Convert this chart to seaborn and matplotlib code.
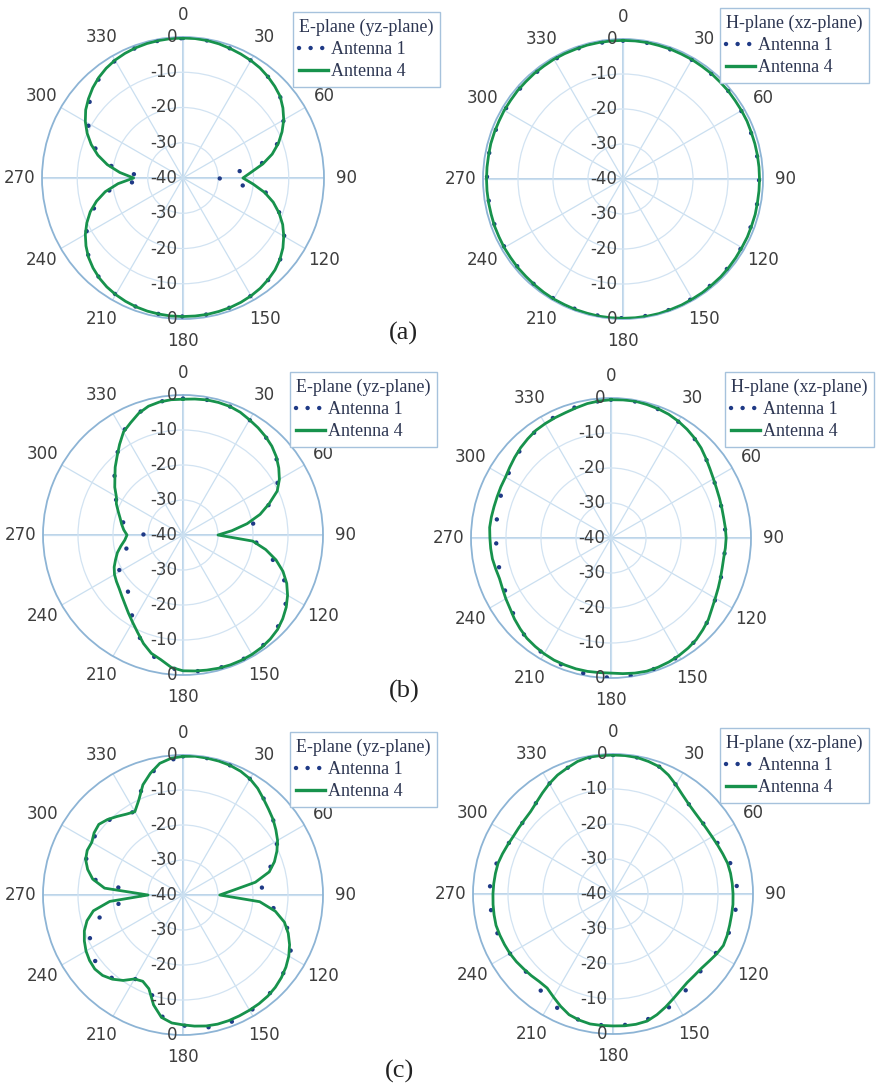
import numpy as np
import matplotlib
matplotlib.use("Agg")
import matplotlib.pyplot as plt
import seaborn as sns
from matplotlib.lines import Line2D
from matplotlib.transforms import offset_copy

# ---------------------------------------------------------------- data (dB)
angles_fine = np.arange(0, 360, 5)      # Antenna 4 sampling, degrees
angles_coarse = np.arange(0, 360, 10)   # Antenna 1 sampling, degrees

# (a) E-plane
a_e_ant4 = [-0.3, -0.3, -0.4, -0.6, -0.9, -1.2, -1.5, -1.9, -2.5, -3.2, -4.0, -5.4,
            -7.0, -9.0, -11.2, -13.8, -17.0, -20.5, -23.0, -20.0, -16.5, -13.5, -11.0, -8.8,
            -7.0, -5.4, -4.1, -3.1, -2.4, -1.8, -1.4, -1.1, -0.9, -0.8, -0.7, -0.7,
            -0.7, -0.7, -0.8, -0.9, -1.1, -1.4, -1.8, -2.3, -3.0, -3.9, -5.0, -6.4,
            -8.0, -9.9, -12.0, -14.6, -17.6, -21.5, -26.0, -22.0, -18.2, -15.0, -12.3, -10.0,
            -8.0, -6.3, -5.0, -3.8, -2.8, -2.0, -1.4, -1.0, -0.7, -0.5, -0.4, -0.3]
a_e_ant1 = [-0.3, -0.4, -0.9, -1.5, -2.5, -4.0, -7.0, -11.5, -17.5, -30.0, -16.0, -10.8,
            -6.8, -4.0, -2.3, -1.4, -0.9, -0.7, -0.7, -0.8, -1.1, -1.8, -3.0, -5.0,
            -8.2, -12.5, -18.0, -29.0, -18.5, -12.8, -8.8, -5.5, -3.0, -1.5, -0.7, -0.4]

# (a) H-plane
a_h_ant4 = [-0.4, -0.4, -0.4, -0.5, -0.5, -0.6, -0.6, -0.7, -0.7, -0.8, -0.8, -0.9,
            -0.9, -0.9, -1.0, -1.0, -1.0, -1.0, -1.0, -1.0, -1.0, -0.9, -0.9, -0.8,
            -0.8, -0.7, -0.6, -0.5, -0.5, -0.4, -0.4, -0.3, -0.3, -0.2, -0.2, -0.2,
            -0.2, -0.2, -0.2, -0.3, -0.3, -0.4, -0.4, -0.5, -0.6, -0.7, -0.7, -0.8,
            -0.8, -0.9, -0.9, -1.0, -1.0, -1.0, -1.0, -1.0, -1.0, -0.9, -0.9, -0.9,
            -0.8, -0.8, -0.7, -0.7, -0.6, -0.6, -0.5, -0.5, -0.5, -0.4, -0.4, -0.4]
a_h_ant1 = [-0.5, -0.5, -0.6, -0.7, -0.8, -0.8, -1.0, -1.1, -1.1, -1.1, -1.0, -1.0,
            -0.9, -0.7, -0.6, -0.5, -0.3, -0.3, -0.2, -0.3, -0.4, -0.5, -0.6, -0.8,
            -0.9, -1.0, -1.1, -1.1, -1.0, -1.0, -0.9, -0.8, -0.7, -0.6, -0.5, -0.5]

# (b) E-plane
b_e_ant4 = [-1.2, -1.0, -0.8, -0.8, -0.9, -1.3, -2.0, -2.6, -3.3, -4.1, -5.2, -6.6,
            -8.2, -10.3, -13.8, -17.2, -21.4, -26.0, -30.0, -20.0, -16.0, -12.5, -9.6, -7.3,
            -5.5, -4.0, -2.8, -1.8, -1.2, -0.8, -0.6, -0.5, -0.5, -0.6, -0.8, -1.0,
            -1.2, -2.0, -3.8, -5.0, -7.0, -9.3, -11.2, -12.8, -14.2, -15.3, -16.2, -16.8,
            -17.4, -18.3, -19.5, -20.6, -22.0, -23.3, -24.0, -23.0, -22.2, -21.4, -20.3, -19.0,
            -18.0, -16.2, -14.6, -12.6, -10.7, -8.4, -6.0, -4.6, -3.0, -1.9, -1.4, -1.2]
b_e_ant1 = [-1.0, -0.8, -0.9, -2.0, -3.3, -5.2, -8.4, -13.5, -19.5, -21.5, -16.5, -9.8,
            -5.6, -2.8, -1.2, -0.5, -0.4, -0.7, -0.8, -2.8, -6.5, -11.5, -16.0, -19.0,
            -19.0, -20.5, -24.5, -29.0, -23.0, -20.0, -17.8, -14.4, -10.5, -5.8, -2.8, -1.3]

# (b) H-plane
b_h_ant4 = [-0.5, -0.4, -0.3, -0.5, -0.7, -1.0, -1.5, -2.1, -2.8, -3.6, -4.6, -5.5,
            -6.2, -6.7, -7.0, -7.2, -7.3, -7.2, -7.1, -7.2, -7.3, -7.1, -6.7, -6.2,
            -5.6, -4.8, -3.7, -2.9, -2.1, -1.6, -1.2, -0.9, -0.7, -0.6, -0.8, -1.1,
            -1.4, -1.4, -1.3, -1.3, -1.4, -1.5, -1.8, -2.2, -2.6, -3.3, -4.0, -4.8,
            -5.3, -5.8, -6.1, -5.9, -5.6, -5.5, -5.4, -5.2, -5.3, -5.4, -5.4, -5.3,
            -5.2, -4.7, -4.1, -3.5, -3.0, -2.5, -2.3, -2.1, -1.9, -1.5, -1.0, -0.7]
b_h_ant1 = [-0.5, -0.4, -0.8, -1.6, -2.9, -4.6, -6.2, -7.0, -7.3, -7.1, -7.2, -6.6,
            -5.5, -3.6, -2.0, -1.0, -0.6, -0.2, 0.0, -0.4, -1.0, -1.6, -2.4, -4.2,
            -5.8, -6.6, -7.0, -7.1, -6.9, -6.3, -5.6, -4.3, -3.0, -2.0, -1.4, -0.8]

# (c) E-plane
c_e_ant4 = [-0.4, -0.2, -0.3, -0.4, -0.6, -1.0, -1.7, -2.8, -4.2, -5.4, -6.4, -7.6,
            -8.8, -10.4, -12.2, -14.5, -19.0, -26.0, -29.5, -18.0, -13.2, -10.0, -8.0, -6.4,
            -5.1, -4.1, -3.3, -2.7, -2.3, -2.1, -2.0, -1.9, -1.8, -1.8, -2.0, -2.4,
            -2.9, -3.3, -4.5, -7.5, -11.5, -12.8, -12.3, -10.2, -8.6, -7.5, -7.1, -7.4,
            -8.0, -8.9, -10.0, -11.6, -14.0, -19.0, -30.0, -17.5, -13.8, -11.8, -10.4, -9.8,
            -9.9, -9.0, -8.6, -9.5, -10.7, -11.8, -12.5, -10.1, -6.5, -4.0, -1.8, -0.8]
c_e_ant1 = [-0.4, -0.3, -0.6, -1.7, -4.1, -6.4, -8.8, -12.4, -17.5, -17.0, -13.0, -7.0,
            -4.6, -3.3, -2.3, -1.6, -1.1, -1.5, -2.7, -4.8, -11.6, -12.4, -8.8, -8.2,
            -9.2, -11.8, -18.0, -28.0, -14.0, -10.5, -10.1, -8.7, -10.7, -12.5, -6.5, -1.8]

# (c) H-plane
c_h_ant4 = [-0.3, -0.3, -0.4, -0.8, -1.3, -2.5, -4.0, -5.4, -6.4, -7.0, -7.3, -7.4,
            -7.3, -7.0, -6.6, -6.1, -5.9, -5.8, -5.7, -5.6, -5.6, -5.5, -5.3, -5.2,
            -5.8, -6.5, -7.0, -7.1, -7.0, -6.4, -5.5, -4.4, -3.3, -2.4, -2.2, -2.2,
            -2.3, -2.3, -2.3, -2.7, -3.3, -4.6, -6.0, -7.2, -7.3, -7.0, -6.7, -6.3,
            -6.0, -5.8, -5.6, -5.4, -5.5, -5.6, -5.7, -5.8, -5.9, -6.0, -6.4, -6.8,
            -7.1, -7.1, -7.0, -6.7, -5.9, -4.8, -3.6, -2.5, -1.7, -0.8, -0.3, -0.3]
c_h_ant1 = [-0.3, -0.4, -1.3, -4.0, -6.4, -7.2, -7.2, -5.8, -4.7, -4.3, -4.7, -5.1,
            -6.1, -6.7, -5.9, -4.2, -3.0, -2.4, -2.2, -2.3, -2.9, -4.1, -6.0, -6.7,
            -6.0, -5.1, -4.8, -4.6, -4.8, -6.2, -7.1, -7.0, -5.9, -3.6, -1.7, -0.4]

angle_labels = [str(a) for a in range(0, 360, 30)]
radial_ticks = [-30, -20, -10]
radial_up = [0, -10, -20, -30, -40]
radial_down = [-30, -20, -10, 0]
series_names = ["Antenna 1", "Antenna 4"]
panel_tags = ["(a)", "(b)", "(c)"]

# ---------------------------------------------------------------- styling
GREEN = "#17924c"
NAVY = "#1f3a86"
SPOKE = "#cadff0"
RING = "#d2e3f2"
AXLINE = "#a9c8e3"
OUTER = "#8db4d5"
TXT = "#3d3d3d"
LEG_TXT = "#2d3652"
SERIF = "Liberation Serif"
DOT_LW = 3.2
DOT_STYLE = (0, (0.01, 5.4))

W, H = 889, 1088
fig = plt.figure(figsize=(W / 100, H / 100), dpi=100)
fig.patch.set_facecolor("white")


def polar_axes(cx, cy, R):
    rect = [(cx - R) / W, (H - cy - R) / H, 2 * R / W, 2 * R / H]
    return fig.add_axes(rect, projection="polar")


def closed(deg, vals):
    th = np.deg2rad(np.append(deg, 360))
    r = np.append(np.asarray(vals, float), vals[0])
    return th, r


def draw_panel(ax, ant1, ant4, title, legend_xy):
    ax.set_theta_zero_location("N")
    ax.set_theta_direction(-1)
    ax.set_facecolor("white")

    ax.set_xticks(np.deg2rad(np.arange(0, 360, 30)))
    ax.set_xticklabels(angle_labels, fontsize=12, color=TXT)
    ax.tick_params(axis="x", size=0, pad=9)
    ax.set_rticks(radial_ticks)
    ax.set_yticklabels([])
    ax.xaxis.grid(True, color=SPOKE, lw=0.9)
    ax.yaxis.grid(True, color=RING, lw=0.9)
    ax.spines["polar"].set_color(OUTER)
    ax.spines["polar"].set_linewidth(1.3)

    for t in (0, 90, 180, 270):
        ax.axvline(np.deg2rad(t), color=AXLINE, lw=1.1, zorder=1)

    th1, r1 = closed(angles_coarse, ant1)
    th4, r4 = closed(angles_fine, ant4)
    sns.lineplot(x=th1, y=r1, ax=ax, sort=False, estimator=None, color=NAVY,
                 lw=DOT_LW, linestyle=DOT_STYLE, dash_capstyle="round", zorder=3)
    sns.lineplot(x=th4, y=r4, ax=ax, sort=False, estimator=None, color=GREEN,
                 lw=2.0, zorder=4)
    ax.set_xlabel("")
    ax.set_ylabel("")
    ax.set_rlim(-40, 0)

    # radial scale printed along the vertical axis, both directions
    tr = offset_copy(ax.transData, fig=fig, x=-4, y=0, units="points")
    for v in radial_up:
        ax.text(0, v, str(v), transform=tr, ha="right", va="center",
                fontsize=12, color=TXT, zorder=5)
    for v in radial_down:
        ax.text(np.pi, v, str(v), transform=tr, ha="right", va="center",
                fontsize=12, color=TXT, zorder=5)

    handles = [
        Line2D([], [], color=NAVY, lw=DOT_LW, linestyle=(0, (0.01, 2.6)),
               dash_capstyle="round"),
        Line2D([], [], color=GREEN, lw=2.4),
    ]
    leg = ax.legend(handles, series_names, title=title, loc="upper left",
                    bbox_to_anchor=(legend_xy[0] / W, 1 - legend_xy[1] / H),
                    bbox_transform=fig.transFigure, frameon=True, fancybox=False,
                    framealpha=1, edgecolor="#a6c2dc", alignment="left",
                    prop={"family": SERIF, "size": 13},
                    title_fontproperties={"family": SERIF, "size": 13},
                    handlelength=1.6, handletextpad=0.15, labelspacing=0.3,
                    borderpad=0.35, borderaxespad=0, labelcolor=LEG_TXT)
    leg.get_title().set_color(LEG_TXT)
    leg.get_frame().set_linewidth(1.0)


panels = [
    ((183, 178, 141), a_e_ant1, a_e_ant4, "E-plane (yz-plane)", (293, 12)),
    ((623, 179, 140), a_h_ant1, a_h_ant4, "H-plane (xz-plane)", (720, 8)),
    ((183, 535, 140), b_e_ant1, b_e_ant4, "E-plane (yz-plane)", (290, 372)),
    ((611, 538, 140), b_h_ant1, b_h_ant4, "H-plane (xz-plane)", (725, 372)),
    ((183, 895, 140), c_e_ant1, c_e_ant4, "E-plane (yz-plane)", (290, 732)),
    ((613, 894, 140), c_h_ant1, c_h_ant4, "H-plane (xz-plane)", (720, 728)),
]
for (cx, cy, R), ant1, ant4, title, lxy in panels:
    ax = polar_axes(cx, cy, R)
    draw_panel(ax, ant1, ant4, title, lxy)

for tag, (x, y) in zip(panel_tags, [(403, 333), (404, 691), (399, 1071)]):
    fig.text(x / W, 1 - y / H, tag, ha="center", va="center",
             family=SERIF, fontsize=19, color="#222222")

fig.savefig("out.png", dpi=100, facecolor="white")
